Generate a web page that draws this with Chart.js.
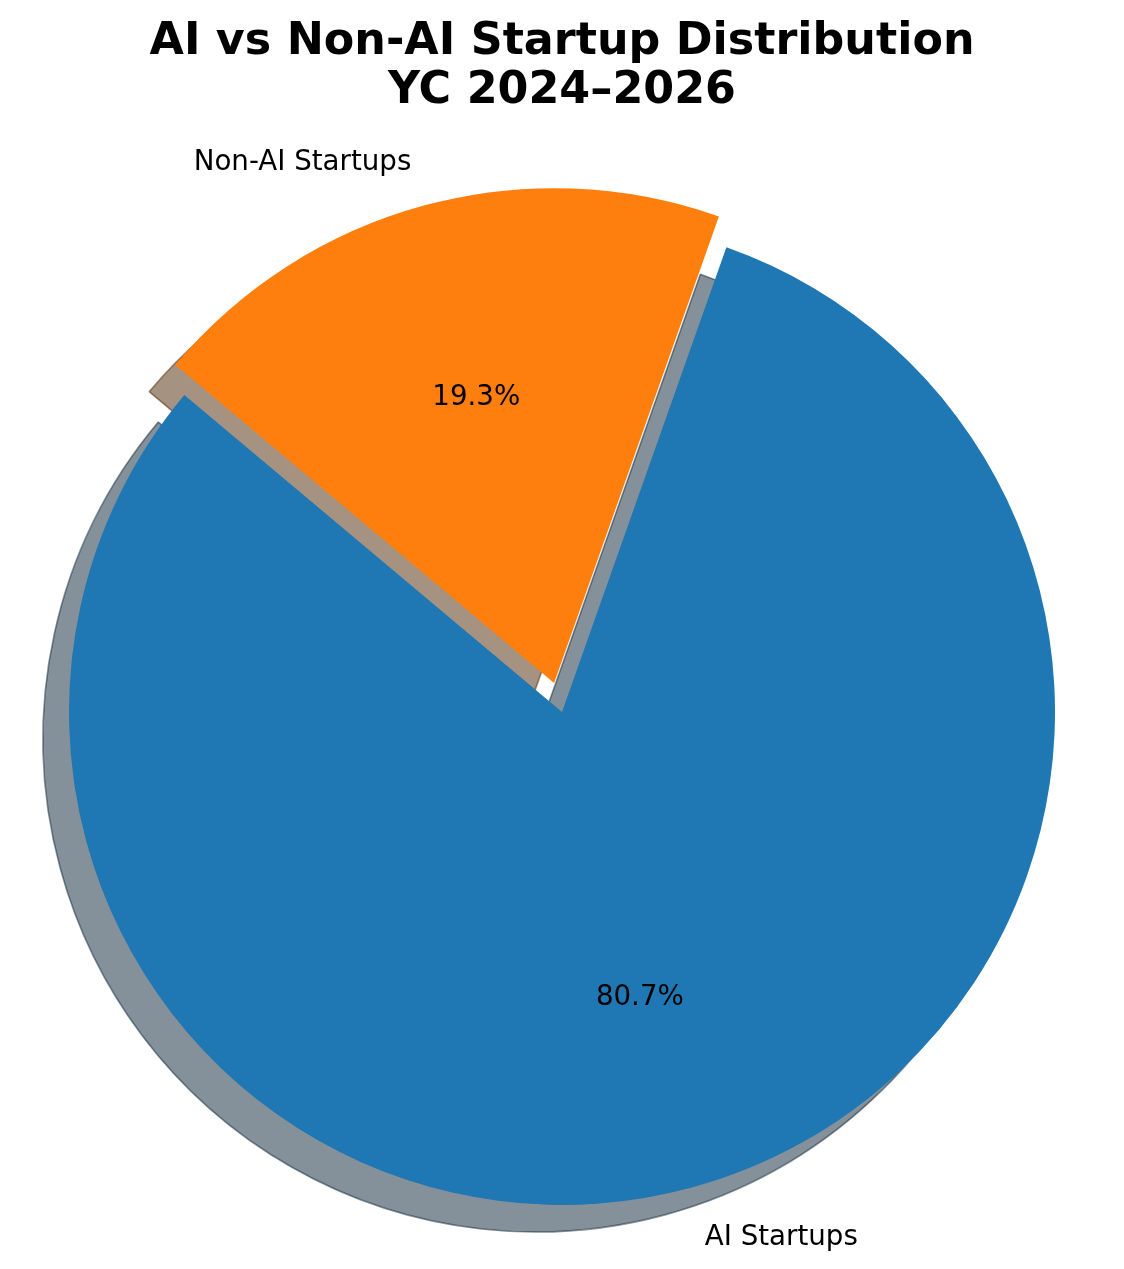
<!DOCTYPE html>
<html>
<head>
<meta charset="utf-8">
<title>AI vs Non-AI Startup Distribution</title>
<script src="https://cdn.jsdelivr.net/npm/chart.js@4.4.1/dist/chart.umd.min.js"></script>
<style>
  html, body { margin: 0; padding: 0; background: #fff; }
  #wrap { width: 1124px; height: 1269px; }
</style>
</head>
<body>
<div id="wrap"><canvas id="startupPie"></canvas></div>
<script>
// data
const categories = ['AI Startups', 'Non-AI Startups'];
const shares = [80.7, 19.3];
const sliceColors = ['#1f77b4', '#ff7f0e'];
const explode = [0, 120];        // chart.js offset (shifts the slice by offset/4)
const startAngle = 140;          // matplotlib style start angle, counter-clockwise

const total = shares.reduce((a, b) => a + b, 0);

// shadow colour = 30% of the slice colour at half alpha
function shadowOf(hex, a) {
    const n = parseInt(hex.slice(1), 16);
    const r = Math.round(((n >> 16) & 255) * 0.3);
    const g = Math.round(((n >> 8) & 255) * 0.3);
    const b = Math.round((n & 255) * 0.3);
    return 'rgba(' + r + ',' + g + ',' + b + ',' + a + ')';
}

const shadowPlugin = {
    id: 'pieShadow',
    beforeDatasetsDraw(chart) {
        const ctx = chart.ctx;
        chart.getDatasetMeta(0).data.forEach((arc, i) => {
            const ghost = Object.create(arc);
            ghost.options = Object.assign({}, arc.options, {
                backgroundColor: shadowOf(sliceColors[i], 0.5),
                borderColor: shadowOf(sliceColors[i], 0.5),
                borderWidth: 1.6
            });
            ctx.save();
            ctx.translate(-26, 27);
            ghost.draw(ctx);
            ctx.restore();
        });
    }
};

const labelPlugin = {
    id: 'pieLabels',
    afterDatasetsDraw(chart) {
        const ctx = chart.ctx;
        ctx.save();
        ctx.fillStyle = '#000';
        ctx.font = '27.7px "DejaVu Sans"';
        ctx.textBaseline = 'middle';
        chart.getDatasetMeta(0).data.forEach((arc, i) => {
            const mid = (arc.startAngle + arc.endAngle) / 2;
            const shift = (arc.options.offset || 0) / 4;
            const cx = arc.x + Math.cos(mid) * shift;
            const cy = arc.y + Math.sin(mid) * shift;
            const r = arc.outerRadius;
            // percentage inside
            ctx.textAlign = 'center';
            ctx.fillText((shares[i] / total * 100).toFixed(1) + '%',
                cx + Math.cos(mid) * r * 0.6, cy + Math.sin(mid) * r * 0.6);
            // category label outside (centred on its full box, descenders included)
            ctx.textAlign = Math.cos(mid) > 0 ? 'left' : 'right';
            ctx.fillText(categories[i], cx + Math.cos(mid) * r * 1.1, cy + Math.sin(mid) * r * 1.1 + 2.5);
        });
        ctx.restore();
    }
};

const ctxPie = document.getElementById('startupPie').getContext('2d');
new Chart(ctxPie, {
    type: 'pie',
    data: {
        labels: categories,
        datasets: [{
            data: shares,
            backgroundColor: sliceColors,
            borderWidth: 0,
            offset: explode,
            hoverOffset: 0
        }]
    },
    options: {
        responsive: true,
        maintainAspectRatio: false,
        devicePixelRatio: 1,
        animation: false,
        rotation: 90 - startAngle - 360 * shares[0] / total,
        layout: { padding: { left: 9, right: 9, top: 0, bottom: 4 } },
        plugins: {
            legend: { display: false },
            tooltip: { enabled: false },
            title: {
                display: true,
                text: ['AI vs Non-AI Startup Distribution', 'YC 2024\u20132026'],
                color: '#000',
                font: { family: '"DejaVu Sans"', size: 44.4, weight: 'bold', lineHeight: '49px' },
                padding: { top: 17.5, bottom: 43.5 }
            }
        }
    },
    plugins: [shadowPlugin, labelPlugin]
});
</script>
</body>
</html>
